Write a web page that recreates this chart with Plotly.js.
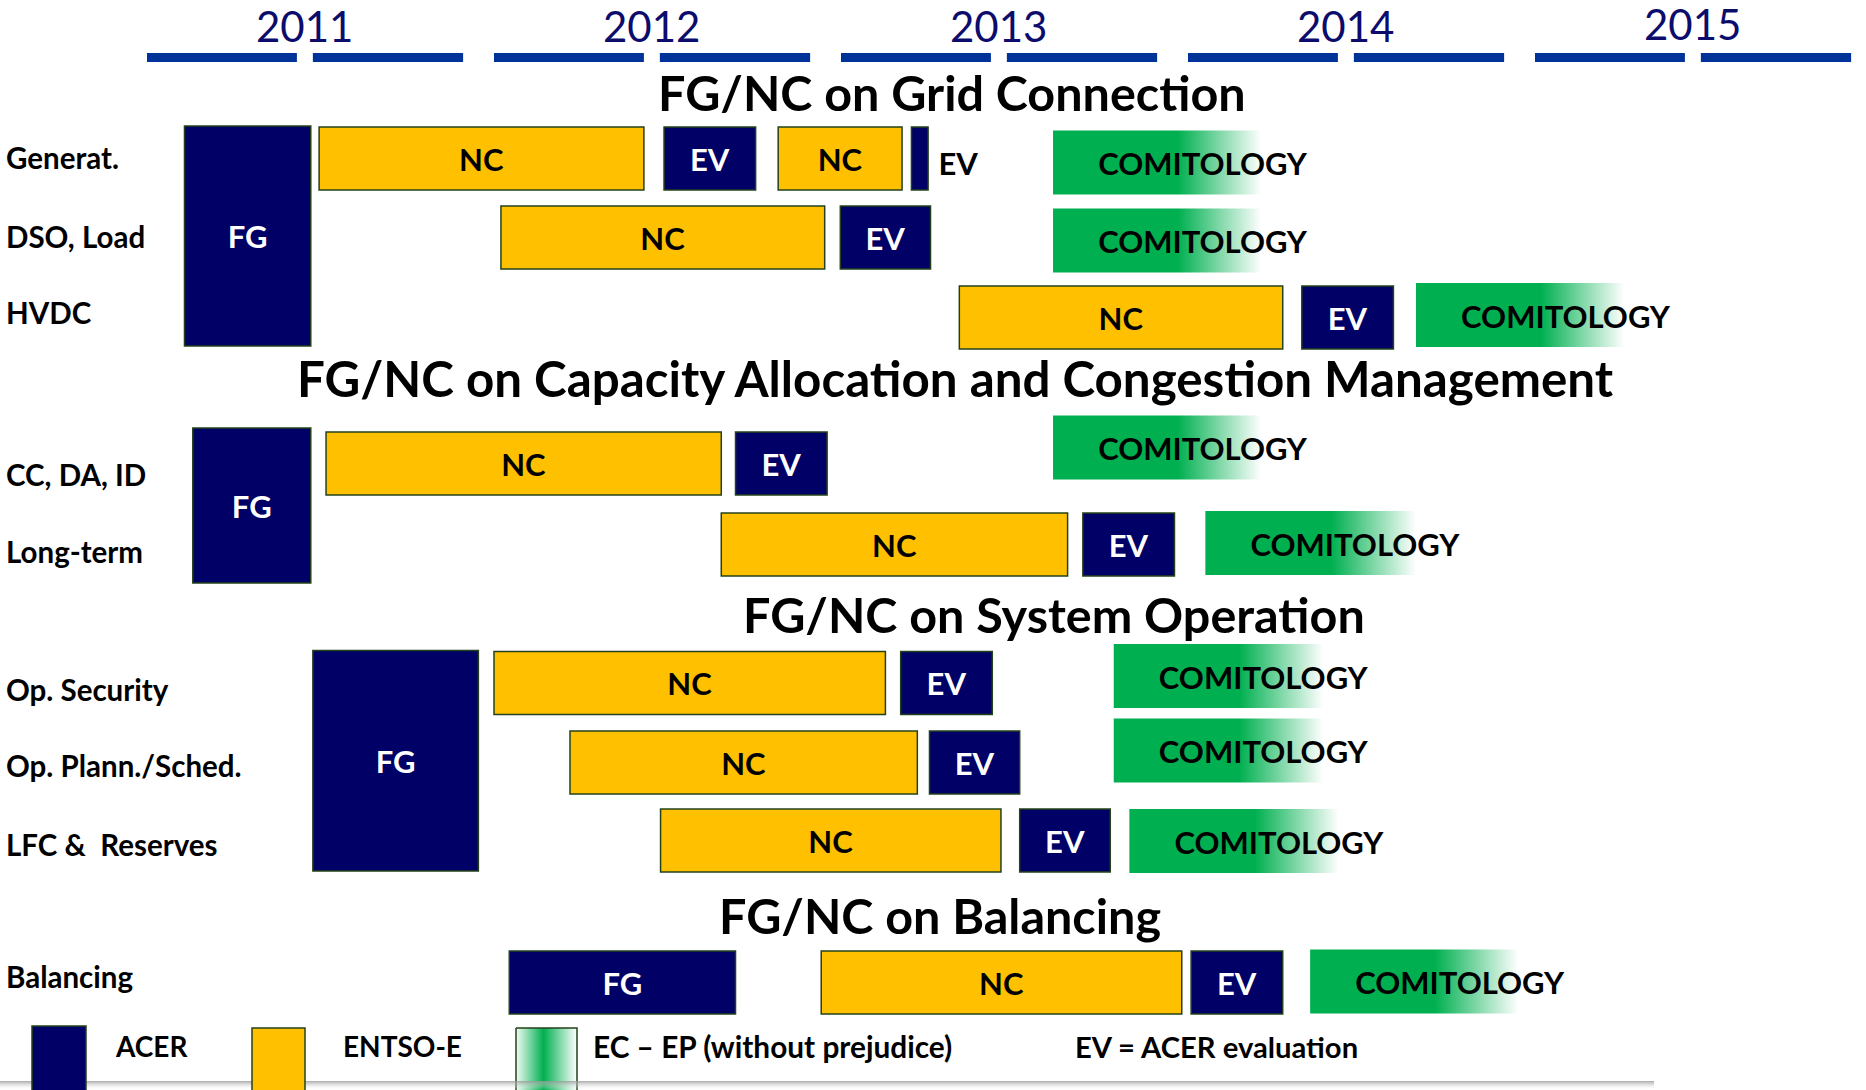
<!DOCTYPE html>
<html><head><meta charset="utf-8">
<script src="https://cdn.plot.ly/plotly-3.0.1.min.js"></script>
<style>html,body{margin:0;padding:0;background:#fff;overflow:hidden}#chart{width:1866px;height:1090px}</style>
</head><body><div id="chart"></div>
<script>
// ---------------- DATA ----------------
const years = [2011, 2012, 2013, 2014, 2015];
const sectionTitles = [
  'FG/NC on Grid Connection',
  'FG/NC on Capacity Allocation and Congestion Management',
  'FG/NC on System Operation',
  'FG/NC on Balancing'
];
const rowLabels = ['Generat.', 'DSO, Load', 'HVDC', 'CC, DA, ID', 'Long-term',
  'Op. Security', 'Op. Plann./Sched.', 'LFC &  Reserves', 'Balancing'];

// Framework Guidelines (ACER) – spanning rows
const fgFirstRow = [0, 3, 5, 8];
const fgLastRow  = [2, 4, 7, 8];
const fgStart = [2011.108, 2011.132, 2011.478, 2012.044];
const fgEnd   = [2011.472, 2011.472, 2011.955, 2012.696];

// Network Codes (ENTSO-E)
const ncRow   = [0, 0, 1, 2, 3, 4, 5, 6, 7, 8];
const ncStart = [2011.496, 2012.819, 2012.020, 2013.341, 2011.516, 2012.655, 2012.000, 2012.219, 2012.480, 2012.943];
const ncEnd   = [2012.432, 2013.176, 2012.953, 2014.273, 2012.655, 2013.653, 2013.128, 2013.220, 2013.461, 2013.982];

// ACER evaluation
const evRow   = [0, 0, 1, 2, 3, 4, 5, 6, 7, 8];
const evStart = [2012.490, 2013.203, 2012.998, 2014.328, 2012.696, 2013.697, 2013.172, 2013.255, 2013.515, 2014.009];
const evEnd   = [2012.754, 2013.251, 2013.258, 2014.592, 2012.960, 2013.961, 2013.436, 2013.515, 2013.776, 2014.273];

// Comitology (EC – EP)
const comRow   = [0, 1, 2, 3, 4, 5, 6, 7, 8];
const comStart = [2013.611, 2013.611, 2014.657, 2013.611, 2014.050, 2013.786, 2013.786, 2013.831, 2014.352];
const comEnd   = [2014.211, 2014.211, 2015.257, 2014.211, 2014.657, 2014.390, 2014.390, 2014.434, 2014.952];

const legendLabels = ['ACER', 'ENTSO-E', 'EC – EP (without prejudice)', 'EV = ACER evaluation'];

// ---------------- LAYOUT CONFIG ----------------
const W = 1866, H = 1090;
const X0PX = 147, YEARPX = 347;
const px2yr = p => 2011 + (p - X0PX) / YEARPX;
const rowCenter = [158.5, 237.5, 317.5, 463.5, 544.5, 683, 762.5, 840.5, 982.5];
const rowLabelY = [157, 236, 312, 474, 551, 689, 765, 844, 976];
const barH = 63;
const fgPad = [[1, -3], [4, 7], [1, -1], [0, 0]];
const comShift = [4, 3, -2.5, -16, -1.5, -7, -12, 0.5, -1];
const comH = 64;
const comTextOffset = 0.13, comTextDy = 5;
const outsideGap = 0.03, outsideDy = 9;
const sectionX = [952, 956, 1054, 940], sectionY = [92, 378, 614, 915];
const sectionSize = [48.5, 49.3, 48.5, 48.5];
const yearLabelOffset = 0.455, yearLabelY = [26, 26, 26, 26, 24];
const dashSegs = [[0.0, 0.432], [0.478, 0.911]], dashY = [53, 62];

const NAVY = '#000066', YELLOW = '#FFC000', GREEN = '#00B050', EDGE = '#23411a';
const FONT = 'Lato, "Open Sans", sans-serif';
const comScale = [[0, GREEN], [0.6, GREEN], [1, '#FFFFFF']];
const barFont = (c) => ({family: FONT, size: 31, color: c, weight: 700});

const traces = [];
const barBase = {type: 'bar', orientation: 'h', hoverinfo: 'skip', showlegend: false,
  insidetextanchor: 'middle', textangle: 0, constraintext: 'none', cliponaxis: false};

// FG bars
const fgTop = fgFirstRow.map((r, i) => rowCenter[r] - barH / 2 - fgPad[i][0]);
const fgBot = fgLastRow.map((r, i) => rowCenter[r] + barH / 2 + fgPad[i][1]);
traces.push(Object.assign({}, barBase, {
  base: fgStart, x: fgStart.map((s, i) => fgEnd[i] - s),
  y: fgTop.map((t, i) => (t + fgBot[i]) / 2), width: fgTop.map((t, i) => fgBot[i] - t),
  text: fgStart.map(() => 'FG'), textposition: 'inside',
  insidetextfont: barFont('#fff'),
  marker: {color: NAVY, line: {color: EDGE, width: 1.5}}
}));
// NC bars
traces.push(Object.assign({}, barBase, {
  base: ncStart, x: ncStart.map((s, i) => ncEnd[i] - s),
  y: ncRow.map(r => rowCenter[r]), width: ncRow.map(() => barH),
  text: ncRow.map(() => 'NC'), textposition: 'inside',
  insidetextfont: barFont('#000'),
  marker: {color: YELLOW, line: {color: EDGE, width: 1.5}}
}));
// EV bars (narrow ones get their label beside the bar)
const evNarrow = evStart.map((s, i) => (evEnd[i] - s) * YEARPX < 50);
traces.push(Object.assign({}, barBase, {
  base: evStart, x: evStart.map((s, i) => evEnd[i] - s),
  y: evRow.map(r => rowCenter[r]), width: evRow.map(() => barH),
  text: evRow.map(() => 'EV'),
  textposition: evNarrow.map(n => n ? 'none' : 'inside'),
  insidetextfont: barFont('#fff'),
  marker: {color: NAVY, line: {color: EDGE, width: 1.5}}
}));
const nIdx = evNarrow.map((n, i) => n ? i : -1).filter(i => i >= 0);
traces.push({type: 'scatter', mode: 'text', hoverinfo: 'skip', showlegend: false, cliponaxis: false,
  x: nIdx.map(i => evEnd[i] + outsideGap), y: nIdx.map(i => rowCenter[evRow[i]] + outsideDy),
  text: nIdx.map(() => 'EV'), textposition: 'middle right', textfont: barFont('#000')});
// Comitology gradient boxes
comRow.forEach((r, i) => {
  const c = rowCenter[r] + comShift[r];
  traces.push({type: 'scatter', mode: 'none', hoverinfo: 'skip', showlegend: false,
    x: [comStart[i], comEnd[i], comEnd[i], comStart[i], comStart[i]],
    y: [c - comH / 2, c - comH / 2, c + comH / 2, c + comH / 2, c - comH / 2],
    fill: 'toself', fillgradient: {type: 'horizontal', colorscale: comScale}});
});
traces.push({type: 'scatter', mode: 'text', hoverinfo: 'skip', showlegend: false, cliponaxis: false,
  x: comStart.map(s => s + comTextOffset), y: comRow.map(r => rowCenter[r] + comShift[r] + comTextDy),
  text: comRow.map(() => 'COMITOLOGY'), textposition: 'middle right',
  textfont: barFont('#000')});

// Legend gradient swatch
const lgX0 = px2yr(516), lgX1 = px2yr(577);
traces.push({type: 'scatter', mode: 'lines', hoverinfo: 'skip', showlegend: false,
  x: [lgX0, lgX1, lgX1, lgX0, lgX0], y: [1028, 1028, 1095, 1095, 1028],
  line: {color: EDGE, width: 1.5}, fill: 'toself',
  fillgradient: {type: 'horizontal', colorscale: [[0, '#f2fbf5'], [0.45, GREEN], [1, '#ffffff']]}});
// bottom shadow (soft vertical gradient)
traces.push({type: 'scatter', mode: 'none', hoverinfo: 'skip', showlegend: false,
  x: [px2yr(0), px2yr(1654), px2yr(1654), px2yr(0), px2yr(0)], y: [1081, 1081, 1090, 1090, 1081],
  fill: 'toself', fillgradient: {type: 'vertical', colorscale: [[0, 'rgba(255,255,255,0)'], [1, 'rgba(150,150,150,0.8)']]}});

const shapes = [];
// year dashes
years.forEach(y => dashSegs.forEach(s => shapes.push({type: 'rect', xref: 'x', yref: 'y',
  x0: y + s[0], x1: y + s[1], y0: dashY[0], y1: dashY[1], fillcolor: '#003399', line: {width: 0}})));
// legend swatches
shapes.push({type: 'rect', xref: 'paper', yref: 'y', x0: 32 / W, x1: 86 / W, y0: 1026, y1: 1095,
  fillcolor: NAVY, line: {color: EDGE, width: 1.5}});
shapes.push({type: 'rect', xref: 'paper', yref: 'y', x0: 252 / W, x1: 305 / W, y0: 1028, y1: 1095,
  fillcolor: YELLOW, line: {color: EDGE, width: 1.5}});

const annotations = [];
years.forEach((y, i) => annotations.push({xref: 'x', yref: 'y', x: y + yearLabelOffset, y: yearLabelY[i],
  text: String(y), showarrow: false, xanchor: 'center', yanchor: 'middle',
  font: {family: FONT, size: 42, color: '#0c0c6c'}}));
sectionTitles.forEach((t, i) => annotations.push({xref: 'paper', yref: 'y', x: sectionX[i] / W, y: sectionY[i],
  text: t, showarrow: false, xanchor: 'center', yanchor: 'middle',
  font: {family: FONT, size: sectionSize[i], color: '#000', weight: 700}}));
rowLabels.forEach((t, i) => annotations.push({xref: 'paper', yref: 'y', x: 4 / W, y: rowLabelY[i],
  text: t, showarrow: false, xanchor: 'left', yanchor: 'middle',
  font: {family: FONT, size: 29.5, color: '#000', weight: 700}}));
const legendX = [113, 341, 591, 1073];
const legendSize = [28, 28, 29.8, 29.2];
legendLabels.forEach((t, i) => annotations.push({xref: 'paper', yref: 'y', x: legendX[i] / W, y: 1046,
  text: t, showarrow: false, xanchor: 'left', yanchor: 'middle',
  font: {family: FONT, size: legendSize[i], color: '#000', weight: 700}}));

const layout = {
  width: W, height: H, margin: {l: 0, r: 0, t: 0, b: 0, pad: 0},
  paper_bgcolor: '#fff', plot_bgcolor: '#fff', showlegend: false, barmode: 'overlay',
  xaxis: {range: [px2yr(0), px2yr(W)], visible: false, fixedrange: true},
  yaxis: {range: [H, 0], visible: false, fixedrange: true},
  shapes: shapes, annotations: annotations
};
Plotly.newPlot('chart', traces, layout, {staticPlot: true, displayModeBar: false});
</script></body></html>
